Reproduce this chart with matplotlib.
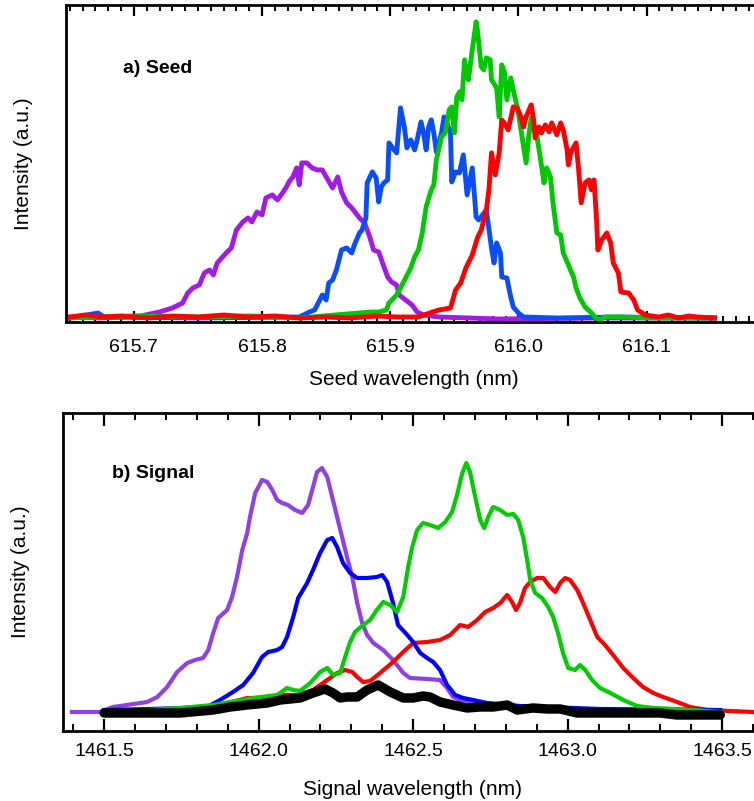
import numpy as np
import matplotlib.pyplot as plt

plt.rcParams['font.family'] = ['Liberation Sans', 'DejaVu Sans']

# ---- a) Seed spectra (wavelength nm, intensity a.u.) ----
seed_purple_wl = [615.650, 615.674, 615.705, 615.720, 615.730, 615.738, 615.742, 615.746,
                  615.751, 615.755, 615.759, 615.762, 615.765, 615.772, 615.776, 615.780,
                  615.785, 615.789, 615.792, 615.796, 615.800, 615.803, 615.808, 615.812,
                  615.816, 615.819, 615.821, 615.824, 615.827, 615.829, 615.831, 615.835,
                  615.839, 615.843, 615.847, 615.850, 615.855, 615.859, 615.862, 615.866,
                  615.870, 615.876, 615.880, 615.884, 615.887, 615.891, 615.894, 615.898,
                  615.901, 615.905, 615.907, 615.912, 615.917, 615.921, 615.926, 615.938,
                  615.985, 616.062, 616.153]
seed_purple_i = [1, 0, 2, 6, 10, 15, 25, 30,
                 33, 45, 48, 43, 55, 65, 70, 88,
                 96, 100, 96, 106, 103, 120, 123, 118,
                 125, 131, 136, 141, 150, 133, 155, 155,
                 150, 148, 148, 141, 130, 141, 126, 115,
                 110, 100, 95, 81, 68, 66, 55, 41,
                 36, 33, 23, 18, 13, 6, 3, 1,
                 -1, 0, 0]

seed_blue_wl = [615.650, 615.672, 615.677, 615.751, 615.829, 615.837, 615.841, 615.845,
                615.847, 615.850, 615.852, 615.855, 615.858, 615.862, 615.866, 615.870,
                615.872, 615.876, 615.878, 615.881, 615.882, 615.886, 615.889, 615.891,
                615.893, 615.895, 615.898, 615.899, 615.903, 615.905, 615.908, 615.911,
                615.913, 615.916, 615.919, 615.921, 615.924, 615.926, 615.928, 615.930,
                615.932, 615.934, 615.936, 615.940, 615.942, 615.944, 615.947, 615.948,
                615.951, 615.954, 615.957, 615.960, 615.964, 615.967, 615.969, 615.975,
                615.979, 615.981, 615.983, 615.986, 615.987, 615.991, 615.994, 615.996,
                616.000, 616.004, 616.031, 616.078, 616.153]
seed_blue_i = [0, 5, 1, 0, 1, 6, 8, 18,
               23, 18, 35, 38, 48, 68, 70, 65,
               73, 85, 88, 100, 135, 146, 140, 116,
               131, 135, 138, 175, 168, 165, 210, 191,
               170, 178, 168, 178, 196, 185, 168, 191,
               198, 185, 166, 185, 201, 195, 186, 136,
               146, 145, 163, 123, 150, 101, 98, 108,
               70, 55, 75, 65, 41, 40, 21, 11,
               5, 1, 0, 1, 0]

seed_green_wl = [615.650, 615.700, 615.751, 615.790, 615.829, 615.885, 615.891, 615.897,
                 615.899, 615.905, 615.908, 615.912, 615.916, 615.919, 615.922, 615.925,
                 615.928, 615.932, 615.934, 615.936, 615.940, 615.943, 615.946, 615.948,
                 615.950, 615.952, 615.954, 615.956, 615.958, 615.961, 615.964, 615.967,
                 615.968, 615.971, 615.973, 615.975, 615.978, 615.979, 615.983, 615.985,
                 615.987, 615.989, 615.991, 615.994, 615.996, 616.000, 616.002, 616.006,
                 616.008, 616.010, 616.014, 616.017, 616.020, 616.022, 616.025, 616.027,
                 616.030, 616.033, 616.035, 616.039, 616.043, 616.045, 616.048, 616.052,
                 616.057, 616.062, 616.068, 616.078, 616.109, 616.153]
seed_green_i = [0, 2, 1, 2, 0, 6, 6, 8,
                15, 23, 30, 40, 50, 61, 68, 85,
                111, 128, 133, 158, 181, 185, 208, 211,
                185, 221, 226, 218, 258, 238, 268, 296,
                288, 251, 248, 260, 258, 238, 230, 201,
                253, 246, 218, 240, 228, 205, 188, 155,
                181, 200, 185, 161, 135, 150, 141, 115,
                85, 83, 65, 53, 41, 30, 20, 11,
                5, -2, 1, 1, 0, 0]

seed_red_wl = [615.650, 615.662, 615.675, 615.690, 615.712, 615.730, 615.750, 615.770,
               615.790, 615.810, 615.830, 615.850, 615.868, 615.890, 615.905, 615.922,
               615.933, 615.938, 615.947, 615.951, 615.955, 615.959, 615.964, 615.968,
               615.971, 615.975, 615.977, 615.979, 615.982, 615.985, 615.987, 615.990,
               615.992, 615.996, 615.999, 616.002, 616.004, 616.006, 616.010, 616.012,
               616.013, 616.016, 616.018, 616.021, 616.024, 616.026, 616.030, 616.033,
               616.035, 616.038, 616.039, 616.041, 616.045, 616.047, 616.049, 616.052,
               616.055, 616.057, 616.059, 616.061, 616.062, 616.065, 616.069, 616.072,
               616.074, 616.078, 616.080, 616.086, 616.090, 616.093, 616.099, 616.109,
               616.117, 616.125, 616.133, 616.140, 616.153]
seed_red_i = [1, 3, 1, 2, 0, 2, 1, 3,
              1, 2, 0, 1, 0, 2, 1, 1,
              6, 8, 10, 28, 35, 50, 63, 80,
              88, 108, 128, 165, 143, 165, 198, 193,
              188, 211, 210, 201, 191, 201, 213, 197,
              180, 191, 185, 193, 186, 195, 183, 195,
              188, 168, 153, 166, 175, 148, 115, 135,
              138, 128, 138, 98, 68, 78, 85, 75,
              55, 45, 26, 25, 18, 8, 3, 1,
              3, 0, 2, 1, 0]

# ---- b) Signal spectra ----
sig_purple_wl = [1461.396, 1461.422, 1461.487, 1461.529, 1461.574, 1461.639, 1461.672, 1461.704,
                 1461.736, 1461.769, 1461.794, 1461.820, 1461.837, 1461.853, 1461.869, 1461.898,
                 1461.914, 1461.930, 1461.947, 1461.963, 1461.972, 1461.989, 1462.011, 1462.028,
                 1462.044, 1462.060, 1462.076, 1462.095, 1462.118, 1462.141, 1462.160, 1462.176,
                 1462.189, 1462.205, 1462.222, 1462.238, 1462.254, 1462.270, 1462.286, 1462.303,
                 1462.319, 1462.335, 1462.351, 1462.371, 1462.403, 1462.435, 1462.468, 1462.490,
                 1462.545, 1462.587, 1462.610, 1462.629, 1462.652, 1462.837, 1463.105, 1463.494]
sig_purple_i = [4, 4, 4, 9, 11, 14, 19, 29,
                44, 53, 56, 58, 66, 83, 98, 106,
                119, 139, 166, 183, 199, 223, 236, 234,
                226, 216, 213, 211, 206, 203, 211, 229,
                244, 248, 239, 219, 199, 179, 159, 139,
                113, 93, 81, 73, 66, 56, 43, 38,
                37, 36, 28, 19, 16, 9, 6, 5]

sig_blue_wl = [1461.500, 1461.649, 1461.756, 1461.833, 1461.875, 1461.917, 1461.950, 1461.982,
               1462.011, 1462.031, 1462.060, 1462.076, 1462.092, 1462.112, 1462.128, 1462.157,
               1462.176, 1462.199, 1462.222, 1462.238, 1462.254, 1462.273, 1462.296, 1462.319,
               1462.351, 1462.383, 1462.400, 1462.416, 1462.435, 1462.451, 1462.481, 1462.500,
               1462.523, 1462.545, 1462.565, 1462.587, 1462.610, 1462.636, 1462.662, 1462.694,
               1462.739, 1462.846, 1463.105, 1463.494]
sig_blue_i = [6, 7, 8, 9, 16, 24, 31, 43,
              59, 64, 66, 69, 79, 99, 118, 133,
              146, 163, 176, 178, 169, 153, 143, 138,
              138, 139, 141, 134, 113, 91, 81, 74,
              63, 58, 54, 46, 31, 21, 18, 16,
              13, 10, 7, 6]

sig_red_wl = [1461.500, 1461.746, 1461.875, 1461.963, 1462.028, 1462.070, 1462.125, 1462.176,
              1462.222, 1462.254, 1462.280, 1462.303, 1462.319, 1462.338, 1462.361, 1462.393,
              1462.435, 1462.468, 1462.500, 1462.545, 1462.587, 1462.620, 1462.652, 1462.678,
              1462.707, 1462.733, 1462.759, 1462.782, 1462.804, 1462.820, 1462.833, 1462.846,
              1462.862, 1462.879, 1462.901, 1462.921, 1462.943, 1462.960, 1462.976, 1462.992,
              1463.008, 1463.031, 1463.050, 1463.073, 1463.096, 1463.121, 1463.147, 1463.180,
              1463.212, 1463.244, 1463.277, 1463.309, 1463.354, 1463.396, 1463.452, 1463.600]
sig_red_i = [5, 6, 11, 18, 18, 21, 21, 26,
             36, 43, 46, 44, 39, 34, 35, 43,
             54, 64, 73, 74, 76, 81, 91, 89,
             96, 104, 108, 113, 121, 114, 106, 113,
             128, 134, 138, 138, 129, 124, 133, 138,
             136, 126, 113, 96, 79, 71, 61, 48,
             38, 29, 23, 19, 14, 9, 6, 4]

sig_green_wl = [1461.500, 1461.746, 1461.853, 1461.982, 1462.060, 1462.092, 1462.112, 1462.134,
                1462.167, 1462.199, 1462.222, 1462.241, 1462.264, 1462.280, 1462.296, 1462.312,
                1462.338, 1462.361, 1462.380, 1462.403, 1462.426, 1462.448, 1462.468, 1462.484,
                1462.497, 1462.513, 1462.532, 1462.555, 1462.581, 1462.604, 1462.626, 1462.642,
                1462.659, 1462.672, 1462.684, 1462.701, 1462.717, 1462.730, 1462.743, 1462.759,
                1462.782, 1462.804, 1462.824, 1462.840, 1462.856, 1462.869, 1462.879, 1462.895,
                1462.917, 1462.937, 1462.953, 1462.969, 1462.985, 1463.002, 1463.024, 1463.040,
                1463.057, 1463.079, 1463.105, 1463.138, 1463.180, 1463.225, 1463.277, 1463.354,
                1463.406, 1463.494]
sig_green_i = [3, 8, 11, 18, 21, 28, 26, 25,
               33, 44, 48, 41, 43, 59, 74, 84,
               91, 96, 105, 114, 111, 104, 119, 149,
               169, 186, 193, 191, 188, 194, 204, 221,
               243, 253, 244, 219, 196, 188, 199, 209,
               206, 201, 202, 196, 179, 156, 136, 123,
               118, 109, 99, 83, 63, 48, 46, 51,
               46, 36, 28, 23, 16, 10, 8, 7,
               6, 4]

sig_black_wl = [1461.500, 1461.746, 1461.853, 1461.908, 1461.963, 1462.028, 1462.070, 1462.134,
                1462.176, 1462.215, 1462.241, 1462.264, 1462.286, 1462.319, 1462.351, 1462.387,
                1462.426, 1462.468, 1462.500, 1462.532, 1462.555, 1462.587, 1462.629, 1462.675,
                1462.717, 1462.759, 1462.804, 1462.837, 1462.888, 1462.934, 1462.976, 1463.031,
                1463.083, 1463.193, 1463.299, 1463.354, 1463.494]
sig_black_i = [3, 3, 6, 9, 11, 13, 16, 18,
               23, 27, 23, 18, 19, 19, 26, 31,
               24, 18, 18, 20, 19, 14, 11, 8,
               9, 9, 11, 6, 8, 7, 7, 3,
               3, 3, 3, 1, 1]

fig = plt.figure(figsize=(7.54, 8.01), dpi=100)
axA = fig.add_axes([0.0875, 0.598, 0.923, 0.396])
axB = fig.add_axes([0.0836, 0.0874, 0.927, 0.397])

# Panel a
lw_a = 3.5
axA.plot(seed_purple_wl, seed_purple_i, color="#a31ae6", lw=lw_a, solid_joinstyle="round")
axA.plot(seed_blue_wl, seed_blue_i, color="#0a4dff", lw=lw_a, solid_joinstyle="round")
axA.plot(seed_green_wl, seed_green_i, color="#00c800", lw=lw_a, solid_joinstyle="round")
axA.plot(seed_red_wl, seed_red_i, color="#ff0000", lw=lw_a, solid_joinstyle="round")
axA.set_xlim(615.647, 616.188)
axA.set_ylim(-4, 313)
axA.set_xticks([615.7, 615.8, 615.9, 616.0, 616.1])
axA.set_xticks(np.arange(615.65, 616.19, 0.01), minor=True)
axA.set_xlabel("Seed wavelength (nm)", fontsize=15, labelpad=10)
axA.set_ylabel("Intensity (a.u.)", fontsize=15, labelpad=24)
axA.text(0.082, 0.80, "a) Seed", transform=axA.transAxes, fontsize=14,
         fontweight="bold", ha="left", va="center")
axA.tick_params(axis="x", which="major", direction="in", top=True, length=8,
                width=1.6, labelsize=14, pad=12)
axA.tick_params(axis="x", which="minor", direction="in", top=True, length=4, width=1.4)

# Panel b
lw_b = 3.0
axB.plot(sig_purple_wl, sig_purple_i, color="#9040e6", lw=lw_b, solid_joinstyle="round")
axB.plot(sig_red_wl, sig_red_i, color="#ff0000", lw=lw_b, solid_joinstyle="round")
axB.plot(sig_blue_wl, sig_blue_i, color="#0000ff", lw=lw_b, solid_joinstyle="round")
axB.plot(sig_green_wl, sig_green_i, color="#00cc00", lw=lw_b, solid_joinstyle="round")
axB.plot(sig_black_wl, sig_black_i, color="black", lw=6.8, solid_joinstyle="round",
         solid_capstyle="round")
axB.set_xlim(1461.367, 1463.629)
axB.set_ylim(-15, 303)
axB.set_xticks([1461.5, 1462.0, 1462.5, 1463.0, 1463.5])
axB.set_xticks(np.arange(1461.4, 1463.65, 0.1), minor=True)
axB.set_xlabel("Signal wavelength (nm)", fontsize=15, labelpad=14)
axB.set_ylabel("Intensity (a.u.)", fontsize=15, labelpad=24)
axB.text(0.070, 0.81, "b) Signal", transform=axB.transAxes, fontsize=14,
         fontweight="bold", ha="left", va="center")
axB.tick_params(axis="x", which="major", direction="in", top=True, length=9,
                width=1.6, labelsize=14, pad=9)
axB.tick_params(axis="x", which="minor", direction="in", top=True, length=5, width=1.4)

for ax in (axA, axB):
    ax.set_yticks([])
    for sp in ax.spines.values():
        sp.set_linewidth(2.0)

fig.savefig("out.png", dpi=100)
